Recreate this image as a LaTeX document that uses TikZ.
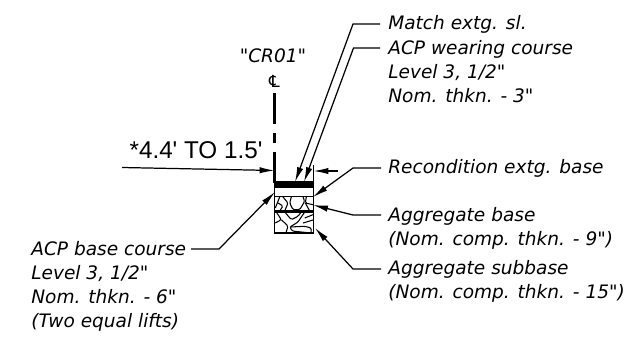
\documentclass[tikz,border=0pt]{standalone}
\usepackage{fontspec}
\setmainfont{DejaVu Sans}[Ligatures=TeXOff]
\newfontfamily\dimfont{Liberation Sans}
\usetikzlibrary{arrows.meta}
\tikzstyle{callout} = [anchor=west, font=\itshape\fontsize{10.55}{13.6}\selectfont, align=left, inner sep=0pt]
\tikzstyle{leader} = [draw, line width=0.7pt, -{Latex[length=8.5pt,width=3.6pt]}]
\tikzstyle{crack} = [draw, line width=0.6pt, rounded corners=0.8pt]
\begin{document}
\begin{tikzpicture}[x=0.02cm,y=-0.02cm]
\useasboundingbox (0,0) rectangle (638,338);
% centerline
\node [font=\itshape\fontsize{10.55}{12}\selectfont, inner sep=0pt] (route) at (273,56) {"CR01"};
\node [font=\fontsize{9.5}{10}\selectfont, inner sep=0pt] (cl) at (274.5,81) {℄};
\coordinate (cl-a) at (274.5,93);
\coordinate (cl-b) at (274.5,124);
\coordinate (cl-c) at (274.5,133);
\coordinate (cl-d) at (274.5,143);
\coordinate (cl-e) at (274.5,152);
\coordinate (cl-f) at (274.5,183);
\draw [line width=1.2pt] (cl-a) -- (cl-b);
\draw [line width=1.2pt] (cl-c) -- (cl-d);
\draw [line width=1.2pt] (cl-e) -- (cl-f);
% section
\coordinate (tl) at (274.5,182);
\coordinate (br) at (313.5,233);
\fill (274.5,182) rectangle (313.5,188);
\draw [line width=0.8pt] (tl) rectangle (br);
\draw [line width=0.8pt] (274.5,196.5) -- (313.5,196.5);
\draw [line width=1.2pt] (274.5,211.5) -- (313.5,211.5);
\draw [line width=0.7pt] (313.5,165) -- (313.5,182);
% rocks
\draw [crack] (279.7,197) -- (275.3,208);
\draw [crack] (278,203) -- (283,206) -- (279.7,211);
\draw [crack] (283,197) -- (288,203) -- (284.7,211);
\draw [crack] (291.3,197) -- (289.7,203) -- (293,209.7) -- (299.7,209.7) -- (304.7,201.3) -- (303,197);
\draw [crack] (306.3,197) -- (305.3,203) -- (313,204.7);
\draw [crack] (305.3,203) -- (309.7,211);
\draw [crack] (276.3,212) -- (281.3,219.7) -- (275.3,223);
\draw [crack] (281.3,219.7) -- (288,226) -- (286,233);
\draw [crack] (284.7,212) -- (291.3,219.7) -- (298,216.3) -- (301.3,212);
\draw [crack] (304.7,212) -- (298,222) -- (290,227) -- (292,231) -- (311,233);
\draw [crack] (290,227) -- (304.7,226.3) -- (311.3,228) -- (311,233);
\draw [crack] (304.7,218) -- (313,214.7);
\draw [crack] (303,223) -- (313,220);
% labels
\node [callout] (match) at (388,24) {Match extg. sl.};
\node [callout, anchor=north west] (wearing) at (388,40) {ACP wearing course\\Level 3, 1/2"\\Nom. thkn. - 3"};
\node [callout] (recond) at (388,168) {Recondition extg. base};
\node [callout, anchor=north west] (aggbase) at (388,207) {Aggregate base\\(Nom. comp. thkn. - 9")};
\node [callout, anchor=north west] (aggsub) at (388,260) {Aggregate subbase\\(Nom. comp. thkn. - 15")};
\node [callout, anchor=north west] (acpbase) at (31,241) {ACP base course\\Level 3, 1/2"\\Nom. thkn. - 6"\\(Two equal lifts)};
\node [font=\dimfont\fontsize{13.8}{14}\selectfont, inner sep=0pt] (width) at (196,150) {*4.4' TO 1.5'};
% leaders
\coordinate (match-tip) at (295,182);
\coordinate (wearing-tip) at (304,182);
\coordinate (recond-tip) at (313,197);
\coordinate (aggbase-tip) at (313,205);
\coordinate (aggsub-tip) at (315,228);
\coordinate (acpbase-tip) at (275,192);
\path [leader] (match.west) ++(-8,0) -- (353,24) -- (match-tip);
\path [leader] (380,48) -- (353.5,48) -- (wearing-tip);
\path [leader] (recond.west) ++(-7,0) -- (353,168) -- (recond-tip);
\path [leader] (381,215) -- (353,215) -- (aggbase-tip);
\path [leader] (381,269) -- (353,269) -- (aggsub-tip);
\path [leader] (191,249) -- (219,249) -- (acpbase-tip);
% dimension
\coordinate (dim-l) at (122,167.5);
\coordinate (dim-r) at (338,171);
\path [leader] (dim-l) -- (274.5,170.5);
\path [leader] (dim-r) -- (313.5,171);
\end{tikzpicture}
\end{document}
